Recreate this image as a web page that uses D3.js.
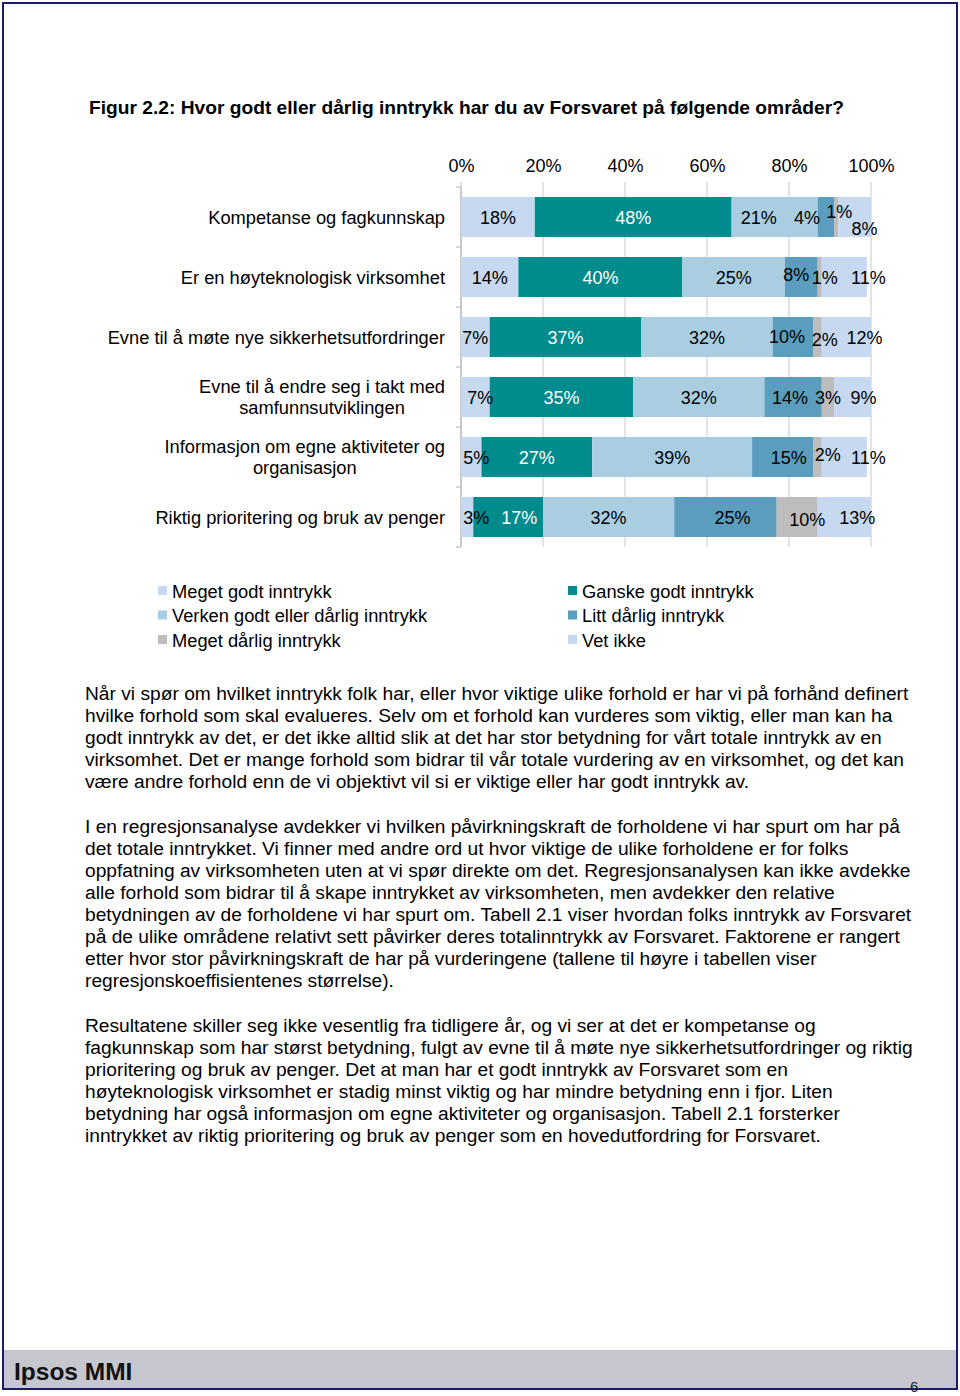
<!DOCTYPE html>
<html><head><meta charset="utf-8">
<script src="https://cdn.jsdelivr.net/npm/d3@7/dist/d3.min.js"></script>
<style>
html,body{margin:0;padding:0;background:#fff;}
svg{display:block;font-family:"Liberation Sans",Arial,sans-serif;}
</style></head>
<body>
<svg id="page" width="960" height="1396"></svg>
<script>
const categories = [
  "Kompetanse og fagkunnskap",
  "Er en høyteknologisk virksomhet",
  "Evne til å møte nye sikkerhetsutfordringer",
  "Evne til å endre seg i takt med samfunnsutviklingen",
  "Informasjon om egne aktiviteter og organisasjon",
  "Riktig prioritering og bruk av penger"
];
const categoryLines = [
  ["Kompetanse og fagkunnskap"],
  ["Er en høyteknologisk virksomhet"],
  ["Evne til å møte nye sikkerhetsutfordringer"],
  ["Evne til å endre seg i takt med", "samfunnsutviklingen"],
  ["Informasjon om egne aktiviteter og", "organisasjon"],
  ["Riktig prioritering og bruk av penger"]
];
const seriesNames = ["Meget godt inntrykk","Ganske godt inntrykk","Verken godt eller dårlig inntrykk","Litt dårlig inntrykk","Meget dårlig inntrykk","Vet ikke"];
const megetGodt   = [18, 14, 7, 7, 5, 3];
const ganskeGodt  = [48, 40, 37, 35, 27, 17];
const verken      = [21, 25, 32, 32, 39, 32];
const littDarlig  = [4, 8, 10, 14, 15, 25];
const megetDarlig = [1, 1, 2, 3, 2, 10];
const vetIkke     = [8, 11, 12, 9, 11, 13];
const tickValues = [0, 20, 40, 60, 80, 100];
const tickLabels = ["0%", "20%", "40%", "60%", "80%", "100%"];

const seriesValues = [megetGodt, ganskeGodt, verken, littDarlig, megetDarlig, vetIkke];
const colors = ["#c6d9f1", "#008b8d", "#a9cde1", "#5b9dbd", "#bdbdbd", "#c6d9f1"];
const labelColors = ["#000", "#fff", "#000", "#000", "#000", "#000"];
// label nudges (dx,dy) per row/series, as placed in original
const nudges = [
  [[0,0],[0,0],[-16,0],[-19,0],[3,-6],[10,11]],
  [[0,0],[0,0],[0,0],[-5,-3],[5,0],[24,0]],
  [[0,0],[0,0],[0,0],[-6,-1],[7,2],[18,0]],
  [[5,0],[0,0],[0,0],[-3,0],[0,0],[11,0]],
  [[5,0],[0,0],[0,0],[6,0],[10,-3],[24,0]],
  [[9,0],[11,0],[0,0],[7,0],[10,2],[13,0]]
];

const svg = d3.select("#page");
const FONT = "18px";
const CATFONT = "18.3px";

// page frame
svg.append("rect").attr("x", 3).attr("y", 3).attr("width", 954).attr("height", 1386)
  .attr("fill", "#fff").attr("stroke", "#1b1b6b").attr("stroke-width", 2);
svg.append("rect").attr("x", 4).attr("y", 1350).attr("width", 952).attr("height", 38).attr("fill", "#c6c6ce");
svg.append("text").attr("x", 14).attr("y", 1380).attr("font-size", "24.5px").attr("font-weight", "bold")
  .attr("fill", "#111").text("Ipsos MMI");
svg.append("text").attr("x", 910).attr("y", 1392).attr("font-size", "15px").attr("fill", "#222").text("6");

// title
svg.append("text").attr("x", 89).attr("y", 114).attr("font-size", "19.2px").attr("font-weight", "bold")
  .text("Figur 2.2: Hvor godt eller dårlig inntrykk har du av Forsvaret på følgende områder?");

// scales
const x = d3.scaleLinear().domain([0, 100]).range([461, 871]);
const y = d3.scaleBand().domain(categories).range([187, 547]).paddingInner(1/3).paddingOuter(1/6);

// gridlines + top tick labels
const g = svg.append("g");
const axis = d3.axisTop(x).tickValues(tickValues).tickFormat((d, i) => tickLabels[i])
  .tickSize(0).tickPadding(0);
const axG = g.append("g").attr("transform", "translate(0,172)").call(axis);
axG.select(".domain").remove();
axG.selectAll("text").attr("font-size", FONT).attr("font-family", "Liberation Sans, Arial, sans-serif").attr("fill", "#000");
g.selectAll("line.grid").data(tickValues).join("line").attr("class", "grid")
  .attr("x1", d => x(d)).attr("x2", d => x(d)).attr("y1", 182).attr("y2", 547)
  .attr("stroke", "#c8c8c8").attr("stroke-width", 1);
// left axis
const leftTicks = categories.map(c => y(c) - y.step() * y.paddingInner() / 2).concat([547]);
g.append("line").attr("x1", x(0)).attr("x2", x(0)).attr("y1", 187).attr("y2", 547).attr("stroke", "#b0b0b0");
g.selectAll("line.lt").data(leftTicks).join("line").attr("class", "lt")
  .attr("x1", x(0) - 5).attr("x2", x(0)).attr("y1", d => d).attr("y2", d => d).attr("stroke", "#b0b0b0");

// stacked data
const rows = categories.map((c, i) => {
  let acc = 0;
  return seriesValues.map((s, j) => { const o = {row: i, s: j, cat: c, x0: acc, v: s[i]}; acc += s[i]; return o; });
});
const flat = rows.flat();
g.selectAll("rect.bar").data(flat).join("rect").attr("class", "bar")
  .attr("x", d => x(d.x0)).attr("width", d => x(d.x0 + d.v) - x(d.x0))
  .attr("y", d => y(d.cat)).attr("height", y.bandwidth())
  .attr("fill", d => colors[d.s]);
g.selectAll("text.lbl").data(flat).join("text").attr("class", "lbl")
  .attr("x", d => x(d.x0 + d.v / 2) + nudges[d.row][d.s][0])
  .attr("y", d => y(d.cat) + y.bandwidth() / 2 + 6.5 + nudges[d.row][d.s][1])
  .attr("text-anchor", "middle").attr("font-size", FONT).attr("fill", d => labelColors[d.s])
  .text(d => d.v + "%");

// category labels
categoryLines.forEach((lines, i) => {
  const cy = y(categories[i]) + y.bandwidth() / 2;
  if (lines.length === 1) {
    svg.append("text").attr("x", 445).attr("y", cy + 6.5).attr("text-anchor", "end")
      .attr("font-size", CATFONT).text(lines[0]);
  } else {
    const ts = lines.map((l, k) => svg.append("text").attr("y", cy + 6.5 + (k - (lines.length - 1) / 2) * 21)
      .attr("text-anchor", "middle").attr("font-size", CATFONT).text(l));
    const w = d3.max(ts, t => t.node().getComputedTextLength());
    ts.forEach(t => t.attr("x", 445 - w / 2));
  }
});

// legend
const legendOrder = [0, 1, 2, 3, 4, 5];
const lg = svg.append("g");
legendOrder.forEach((s, k) => {
  const col = k % 2, r = Math.floor(k / 2);
  const lx = col === 0 ? 158 : 568, ly = 591 + r * 24.5;
  lg.append("rect").attr("x", lx).attr("y", ly - 5).attr("width", 9).attr("height", 9).attr("fill", colors[s]);
  lg.append("text").attr("x", lx + 14).attr("y", ly + 6.5).attr("font-size", CATFONT).text(seriesNames[s]);
});

// body text
const paragraphs = [
  {y: 693, lines: [
    "Når vi spør om hvilket inntrykk folk har, eller hvor viktige ulike forhold er har vi på forhånd definert",
    "hvilke forhold som skal evalueres. Selv om et forhold kan vurderes som viktig, eller man kan ha",
    "godt inntrykk av det, er det ikke alltid slik at det har stor betydning for vårt totale inntrykk av en",
    "virksomhet. Det er mange forhold som bidrar til vår totale vurdering av en virksomhet, og det kan",
    "være andre forhold enn de vi objektivt vil si er viktige eller har godt inntrykk av."]},
  {y: 826, lines: [
    "I en regresjonsanalyse avdekker vi hvilken påvirkningskraft de forholdene vi har spurt om har på",
    "det totale inntrykket. Vi finner med andre ord ut hvor viktige de ulike forholdene er for folks",
    "oppfatning av virksomheten uten at vi spør direkte om det. Regresjonsanalysen kan ikke avdekke",
    "alle forhold som bidrar til å skape inntrykket av virksomheten, men avdekker den relative",
    "betydningen av de forholdene vi har spurt om. Tabell 2.1 viser hvordan folks inntrykk av Forsvaret",
    "på de ulike områdene relativt sett påvirker deres totalinntrykk av Forsvaret. Faktorene er rangert",
    "etter hvor stor påvirkningskraft de har på vurderingene (tallene til høyre i tabellen viser",
    "regresjonskoeffisientenes størrelse)."]},
  {y: 1025, lines: [
    "Resultatene skiller seg ikke vesentlig fra tidligere år, og vi ser at det er kompetanse og",
    "fagkunnskap som har størst betydning, fulgt av evne til å møte nye sikkerhetsutfordringer og riktig",
    "prioritering og bruk av penger. Det at man har et godt inntrykk av Forsvaret som en",
    "høyteknologisk virksomhet er stadig minst viktig og har mindre betydning enn i fjor. Liten",
    "betydning har også informasjon om egne aktiviteter og organisasjon. Tabell 2.1 forsterker",
    "inntrykket av riktig prioritering og bruk av penger som en hovedutfordring for Forsvaret."]}
];
paragraphs.forEach(p => {
  p.lines.forEach((l, k) => {
    svg.append("text").attr("x", 85).attr("y", p.y + 6.5 + k * 22.05).attr("font-size", "19.2px").attr("fill", "#000").text(l);
  });
});
</script>
</body></html>
